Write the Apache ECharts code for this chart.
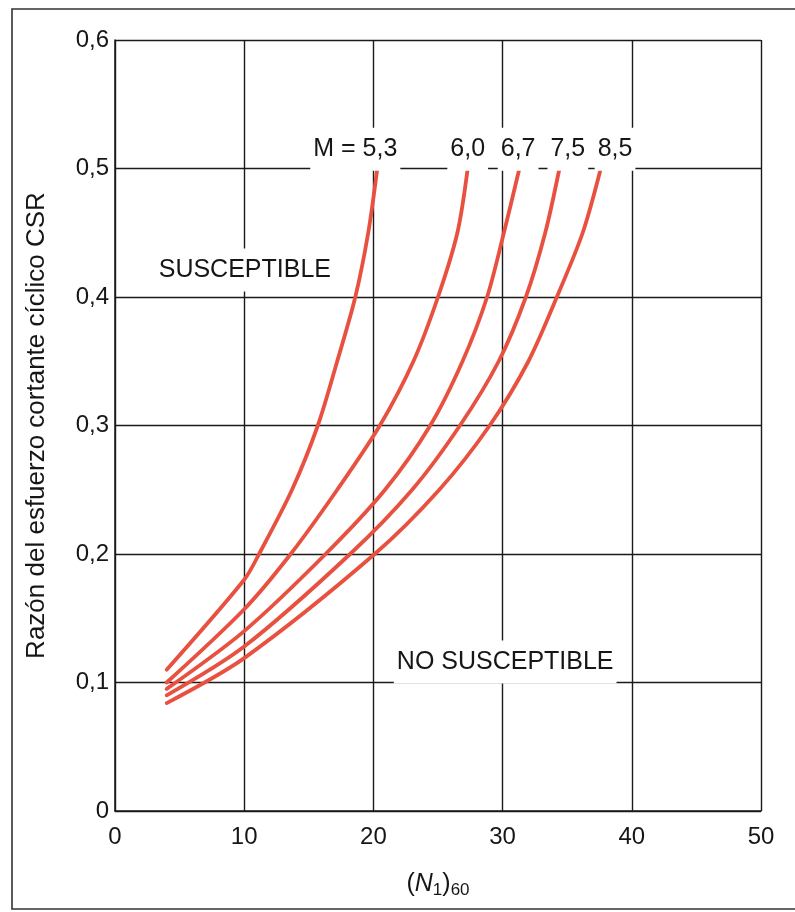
<!DOCTYPE html>
<html>
<head>
<meta charset="utf-8">
<script src="https://cdn.jsdelivr.net/npm/echarts@6/dist/echarts.min.js"></script>
<style>
html,body{margin:0;padding:0;background:#fff;}
#chart{width:795px;height:912px;}
</style>
</head>
<body>
<div id="chart"></div>
<script>
// ---- data ----
var xTicks = [0, 10, 20, 30, 40, 50];
var yTicks = [0, 0.1, 0.2, 0.3, 0.4, 0.5, 0.6];
var curveNames = ['5,3', '6,0', '6,7', '7,5', '8,5'];
var curveM53 = [[4,0.11],[10,0.18],[11.15,0.2],[13.7,0.25],[15.7,0.3],[17.2,0.35],[18.6,0.4],[19.6,0.45],[20.3,0.5]];
var curveM60 = [[4,0.10],[10,0.157],[13.6,0.2],[17.2,0.25],[20.5,0.3],[23.1,0.35],[25.0,0.4],[26.5,0.45],[27.3,0.5]];
var curveM67 = [[4,0.095],[10,0.14],[16.3,0.2],[20.9,0.25],[24.4,0.3],[26.9,0.35],[28.8,0.4],[30.1,0.45],[31.3,0.5]];
var curveM75 = [[4,0.09],[10,0.128],[18.2,0.2],[23.0,0.25],[26.7,0.3],[29.7,0.35],[31.8,0.4],[33.3,0.45],[34.4,0.5]];
var curveM85 = [[4,0.084],[10,0.119],[20.1,0.2],[25.1,0.25],[29.0,0.3],[32.0,0.35],[34.2,0.4],[36.2,0.45],[37.6,0.5]];
var labelTexts = ['M = 5,3', '6,0', '6,7', '7,5', '8,5', 'SUSCEPTIBLE', 'NO SUSCEPTIBLE'];
var labelCoords = [[18.6,0.515],[27.3,0.515],[31.2,0.515],[35.05,0.515],[38.7,0.515],[10.05,0.421],[30.2,0.116]];

var FONT = '"Liberation Sans", Arial, Helvetica, sans-serif';
var TXT = '#161616';
var RED = '#e8503f';

var curves = [curveM53, curveM60, curveM67, curveM75, curveM85];
var series = curves.map(function (d, i) {
  return {
    name: 'M = ' + curveNames[i],
    type: 'line',
    data: d,
    smooth: 0.3,
    symbol: 'none',
    lineStyle: { color: RED, width: 3.8, cap: 'round' },
    z: 3,
    silent: true
  };
});
series.push({
  type: 'scatter',
  data: labelCoords.map(function (c, i) { return { value: c, name: labelTexts[i] }; }),
  symbolSize: 0,
  itemStyle: { opacity: 1 },
  z: 5,
  silent: true,
  label: {
    show: true,
    position: 'inside',
    formatter: function (p) { return p.name; },
    fontFamily: FONT,
    fontSize: 25,
    color: TXT,
    opacity: 1,
    backgroundColor: '#ffffff',
    padding: [9, 3, 9, 3]
  }
});

var chart = echarts.init(document.getElementById('chart'), null, { renderer: 'canvas' });
chart.setOption({
  animation: false,
  backgroundColor: '#fff',
  grid: { left: 115, right: 34, top: 40, bottom: 101, containLabel: false },
  xAxis: {
    type: 'value',
    min: xTicks[0], max: xTicks[xTicks.length - 1], interval: 10,
    name: '{p|(}{n|N}{s|1}{p|)}{s|60}',
    nameLocation: 'middle',
    nameGap: 58,
    nameTextStyle: {
      rich: {
        p: { fontFamily: FONT, fontSize: 25, color: TXT },
        n: { fontFamily: FONT, fontSize: 25, fontStyle: 'italic', color: TXT },
        s: { fontFamily: FONT, fontSize: 17, color: TXT, verticalAlign: 'bottom', padding: [13, 0, 0, 0] }
      }
    },
    axisLine: { show: true, lineStyle: { color: '#1a1a1a', width: 1.5 } },
    axisTick: { show: false },
    axisLabel: {
      margin: 14, fontFamily: FONT, fontSize: 24, color: TXT,
      formatter: function (v) { return xTicks.indexOf(v) >= 0 ? String(v) : ''; }
    },
    splitLine: { show: true, lineStyle: { color: '#1a1a1a', width: 1.4 } }
  },
  yAxis: {
    type: 'value',
    min: yTicks[0], max: yTicks[yTicks.length - 1], interval: 0.1,
    name: 'Razón del esfuerzo cortante cíclico CSR',
    nameLocation: 'middle',
    nameGap: 65,
    nameTextStyle: { fontFamily: FONT, fontSize: 26, color: TXT },
    axisLine: { show: true, lineStyle: { color: '#1a1a1a', width: 1.5 } },
    axisTick: { show: false },
    axisLabel: {
      margin: 6, fontFamily: FONT, fontSize: 24, color: TXT,
      formatter: function (v) {
        var r = Math.round(v * 10) / 10;
        return r === 0 ? '0' : r.toFixed(1).replace('.', ',');
      }
    },
    splitLine: { show: true, lineStyle: { color: '#1a1a1a', width: 1.4 } }
  },
  graphic: [{
    type: 'rect',
    z: -1,
    shape: { x: 12, y: 9, width: 820, height: 900 },
    style: { fill: 'none', stroke: '#333', lineWidth: 1.6 }
  }],
  series: series
});
</script>
</body>
</html>
